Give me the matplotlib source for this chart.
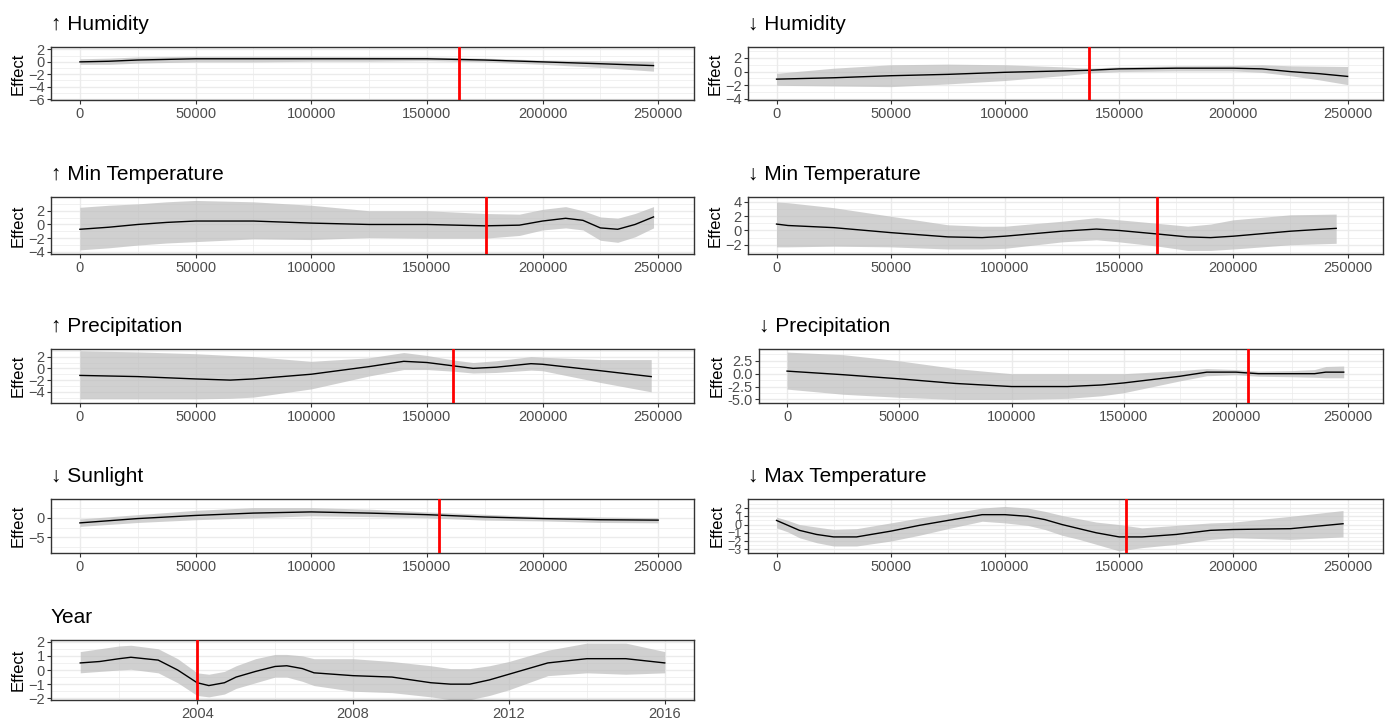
import numpy as np
import matplotlib
matplotlib.use('Agg')
import matplotlib.pyplot as plt
from matplotlib.ticker import FixedLocator, FormatStrFormatter

plt.rcParams['font.family'] = ['Liberation Sans', 'DejaVu Sans']

# ---- data ----
titles = ['↑ Humidity', '↓ Humidity', '↑ Min Temperature', '↓ Min Temperature',
          '↑ Precipitation', '↓ Precipitation', '↓ Sunlight', '↓ Max Temperature', 'Year']

# ↑ Humidity
hum_up_x = [0, 12500, 25000, 50000, 75000, 100000, 125000, 150000, 175000, 200000, 225000, 248000]
hum_up_fit = [0.0, 0.1, 0.3, 0.5, 0.5, 0.5, 0.5, 0.5, 0.3, 0.0, -0.3, -0.6]
hum_up_hi = [0.5, 0.6, 0.8, 0.9, 0.9, 0.9, 0.85, 0.8, 0.6, 0.3, 0.2, 0.1]
hum_up_lo = [-0.4, -0.4, -0.2, 0.0, 0.0, 0.1, 0.1, 0.2, 0.0, -0.4, -0.9, -1.5]

# ↓ Humidity
hum_dn_x = [0, 25000, 50000, 75000, 100000, 125000, 137000, 150000, 175000, 200000, 212500, 225000, 237500, 250000]
hum_dn_fit = [-1.1, -0.9, -0.6, -0.4, -0.1, 0.1, 0.2, 0.4, 0.5, 0.5, 0.4, 0.0, -0.3, -0.7]
hum_dn_hi = [-0.25, 0.5, 1.0, 1.1, 1.0, 0.7, 0.5, 0.7, 0.85, 0.9, 1.0, 0.85, 0.8, 0.75]
hum_dn_lo = [-2.0, -2.1, -2.2, -1.8, -1.3, -0.6, -0.2, 0.0, 0.1, 0.1, -0.1, -0.6, -1.2, -1.9]

# ↑ Min Temperature
tmin_up_x = [0, 12500, 25000, 37500, 50000, 75000, 100000, 125000, 150000, 175000, 190000,
             200000, 210000, 217500, 225000, 232500, 240000, 248000]
tmin_up_fit = [-0.7, -0.4, 0.0, 0.3, 0.5, 0.5, 0.2, 0.0, 0.0, -0.2, -0.1, 0.5, 0.9, 0.6, -0.5, -0.7, 0.0, 1.1]
tmin_up_hi = [2.5, 2.8, 3.0, 3.3, 3.5, 3.3, 2.8, 2.0, 2.0, 1.6, 1.5, 2.2, 2.6, 2.0, 1.1, 0.9, 1.6, 2.6]
tmin_up_lo = [-3.7, -3.4, -3.0, -2.7, -2.5, -2.1, -2.2, -1.9, -2.0, -2.0, -1.6, -0.8, -0.5, -0.8, -2.3, -2.6, -1.8, -0.5]

# ↓ Min Temperature
tmin_dn_x = [0, 5000, 25000, 50000, 75000, 90000, 100000, 125000, 140000, 150000, 167000,
             180000, 190000, 200000, 225000, 245000]
tmin_dn_fit = [0.9, 0.7, 0.4, -0.3, -0.9, -1.0, -0.8, -0.1, 0.2, 0.0, -0.5, -0.9, -1.0, -0.8, -0.1, 0.3]
tmin_dn_hi = [4.0, 3.9, 3.2, 2.0, 0.8, 0.6, 0.6, 1.3, 1.8, 1.5, 1.0, 0.6, 0.9, 1.5, 2.2, 2.3]
tmin_dn_lo = [-2.3, -2.3, -2.2, -2.3, -2.6, -2.6, -2.5, -1.6, -1.3, -1.6, -2.2, -2.8, -2.8, -2.6, -2.0, -1.8]

# ↑ Precipitation
prec_up_x = [0, 25000, 50000, 65000, 75000, 100000, 125000, 140000, 150000, 162000, 170000,
             180000, 195000, 200000, 225000, 247000]
prec_up_fit = [-1.2, -1.4, -1.8, -2.0, -1.8, -1.0, 0.3, 1.2, 1.0, 0.4, 0.0, 0.2, 0.8, 0.7, -0.4, -1.4]
prec_up_hi = [3.0, 2.8, 2.5, 2.2, 2.0, 1.2, 1.8, 2.7, 2.2, 1.4, 1.0, 1.3, 2.0, 1.9, 1.5, 1.5]
prec_up_lo = [-5.2, -5.2, -5.2, -5.1, -4.9, -3.5, -1.3, -0.2, -0.2, -0.5, -0.8, -0.7, -0.3, -0.4, -2.4, -4.0]

# ↓ Precipitation
prec_dn_x = [0, 25000, 50000, 75000, 100000, 125000, 140000, 150000, 175000, 187000, 200000,
             210000, 225000, 235000, 240000, 248000]
prec_dn_fit = [0.5, -0.2, -1.0, -1.9, -2.5, -2.5, -2.2, -1.8, -0.5, 0.3, 0.3, 0.0, 0.0, 0.0, 0.3, 0.3]
prec_dn_hi = [4.2, 3.7, 2.5, 1.0, 0.0, 0.0, 0.0, 0.0, 0.6, 1.0, 0.8, 0.5, 0.6, 0.8, 1.4, 1.5]
prec_dn_lo = [-3.0, -4.0, -4.6, -5.0, -5.0, -4.8, -4.3, -3.7, -1.4, -0.4, -0.2, -0.5, -0.6, -0.7, -0.8, -0.8]

# ↓ Sunlight
sun_x = [0, 25000, 50000, 75000, 100000, 125000, 150000, 175000, 200000, 225000, 250000]
sun_fit = [-1.3, -0.2, 0.6, 1.2, 1.5, 1.2, 0.8, 0.2, -0.2, -0.5, -0.6]
sun_hi = [-0.3, 0.8, 1.9, 2.6, 2.6, 2.2, 1.5, 0.9, 0.3, 0.2, 0.0]
sun_lo = [-2.2, -1.2, -0.5, 0.0, 0.5, 0.3, 0.0, -0.6, -0.8, -1.2, -1.3]

# ↓ Max Temperature
tmax_x = [0, 5000, 10000, 17500, 25000, 35000, 50000, 62500, 75000, 90000, 100000, 110000,
          117500, 125000, 132500, 140000, 150000, 160000, 175000, 190000, 200000, 225000, 248000]
tmax_fit = [0.5, -0.1, -0.7, -1.2, -1.5, -1.5, -0.8, -0.1, 0.5, 1.2, 1.2, 1.0, 0.6, 0.0, -0.5,
            -1.0, -1.5, -1.5, -1.2, -0.7, -0.6, -0.5, 0.1]
tmax_hi = [0.9, 0.5, 0.0, -0.3, -0.6, -0.5, 0.2, 0.8, 1.3, 2.0, 2.2, 2.0, 1.6, 1.1, 0.7, 0.3,
           0.0, -0.4, -0.1, 0.2, 0.3, 1.0, 1.7]
tmax_lo = [-0.4, -0.9, -1.6, -2.2, -2.6, -2.6, -2.0, -1.3, -0.5, 0.4, 0.2, -0.1, -0.6, -1.3,
           -1.8, -2.4, -3.2, -2.8, -2.4, -1.8, -1.6, -1.8, -1.5]

# Year
year_x = [2001, 2001.5, 2002, 2002.3, 2003, 2003.5, 2004, 2004.3, 2004.7, 2005, 2005.5, 2006,
          2006.3, 2006.7, 2007, 2008, 2009, 2010, 2010.5, 2011, 2011.5, 2012, 2012.5, 2013,
          2014, 2015, 2016]
year_fit = [0.5, 0.6, 0.8, 0.9, 0.7, 0.0, -0.9, -1.1, -0.9, -0.5, -0.1, 0.25, 0.3, 0.1, -0.2,
            -0.4, -0.5, -0.9, -1.0, -1.0, -0.7, -0.3, 0.1, 0.5, 0.8, 0.8, 0.5]
year_hi = [1.3, 1.5, 1.7, 1.75, 1.5, 0.8, -0.2, -0.3, -0.1, 0.3, 0.8, 1.1, 1.1, 1.0, 0.8, 0.8,
           0.6, 0.3, 0.1, 0.1, 0.3, 0.6, 1.0, 1.4, 1.9, 1.9, 1.3]
year_lo = [-0.2, -0.1, 0.0, 0.05, -0.2, -0.9, -1.8, -1.9, -1.7, -1.3, -0.9, -0.5, -0.5, -0.8,
           -1.1, -1.5, -1.6, -1.9, -2.1, -2.1, -1.8, -1.4, -0.9, -0.4, -0.2, -0.3, -0.2]

# red reference lines
vlines = [164000, 137000, 175500, 166700, 161400, 205400, 155400, 153200, 2004]

# axis ticks
big_xticks = [0, 50000, 100000, 150000, 200000, 250000]
year_xticks = [2004, 2008, 2012, 2016]
yticks = [[-6, -4, -2, 0, 2], [-4, -2, 0, 2], [-4, -2, 0, 2], [-2, 0, 2, 4], [-4, -2, 0, 2],
          [-5.0, -2.5, 0.0, 2.5], [-5, 0], [-3, -2, -1, 0, 1, 2], [-2, -1, 0, 1, 2]]
ylims = [(-6.15, 2.4), (-4.15, 3.6), (-4.3, 4.0), (-3.3, 4.7), (-5.9, 3.3),
         (-5.7, 4.8), (-9.0, 4.8), (-3.45, 3.1), (-2.12, 2.12)]

series = [(hum_up_x, hum_up_fit, hum_up_lo, hum_up_hi),
          (hum_dn_x, hum_dn_fit, hum_dn_lo, hum_dn_hi),
          (tmin_up_x, tmin_up_fit, tmin_up_lo, tmin_up_hi),
          (tmin_dn_x, tmin_dn_fit, tmin_dn_lo, tmin_dn_hi),
          (prec_up_x, prec_up_fit, prec_up_lo, prec_up_hi),
          (prec_dn_x, prec_dn_fit, prec_dn_lo, prec_dn_hi),
          (sun_x, sun_fit, sun_lo, sun_hi),
          (tmax_x, tmax_fit, tmax_lo, tmax_hi),
          (year_x, year_fit, year_lo, year_hi)]

# ---- layout (pixels) ----
W, H = 1385, 725
fig = plt.figure(figsize=(W / 100, H / 100), dpi=100)

rows = [(47, 100), (197, 254), (349, 403), (499, 553), (640, 700)]
lefts = [51, 748, 51, 748, 51, 759, 51, 748, 51]
rights = [694, 1383, 694, 1383, 694, 1383, 694, 1383, 694]

for i in range(9):
    top, bot = rows[i // 2]
    x0, x1 = lefts[i], rights[i]
    ax = fig.add_axes([x0 / W, 1 - bot / H, (x1 - x0) / W, (bot - top) / H])
    x, fit, lo, hi = series[i]

    ax.fill_between(x, lo, hi, color='#bdbdbd', alpha=0.7, lw=0, zorder=2)
    ax.plot(x, fit, color='black', lw=1.0, zorder=3)
    ax.axvline(vlines[i], color='red', lw=2, zorder=4)

    if i == 8:
        xt = year_xticks
        ax.set_xlim(2000.25, 2016.75)
        xminor = [2002, 2006, 2010, 2014]
    else:
        xt = big_xticks
        ax.set_xlim(-12500, 265500)
        xminor = [25000, 75000, 125000, 175000, 225000]
    ax.xaxis.set_major_locator(FixedLocator(xt))
    ax.xaxis.set_minor_locator(FixedLocator(xminor))

    yt = yticks[i]
    step = yt[1] - yt[0]
    yminor = [v + step / 2 for v in [yt[0] - step] + yt]
    ax.yaxis.set_major_locator(FixedLocator(yt))
    ax.yaxis.set_minor_locator(FixedLocator(yminor))
    if i == 5:
        ax.yaxis.set_major_formatter(FormatStrFormatter('%.1f'))
    ax.set_ylim(*ylims[i])

    ax.grid(which='major', color='#EBEBEB', lw=1.0, zorder=0)
    ax.grid(which='minor', color='#EBEBEB', lw=0.5, zorder=0)
    ax.set_axisbelow(True)
    for s in ax.spines.values():
        s.set_color('#333333')
        s.set_linewidth(1.0)
    ysize = 9 if i == 7 else 10.5
    ax.tick_params(which='major', direction='out', length=3, width=0.8, color='#333333',
                   labelcolor='#4D4D4D', labelsize=10.5, pad=2)
    ax.tick_params(axis='y', labelsize=ysize, pad=1.5)
    ax.tick_params(which='minor', length=0)
    ax.set_ylabel('Effect', fontsize=12, labelpad=2)

    ax.annotate(titles[i], xy=(0, 1), xycoords='axes fraction', xytext=(0, 12),
                textcoords='offset points', ha='left', va='baseline', fontsize=15)

fig.savefig('out.png', dpi=100)
